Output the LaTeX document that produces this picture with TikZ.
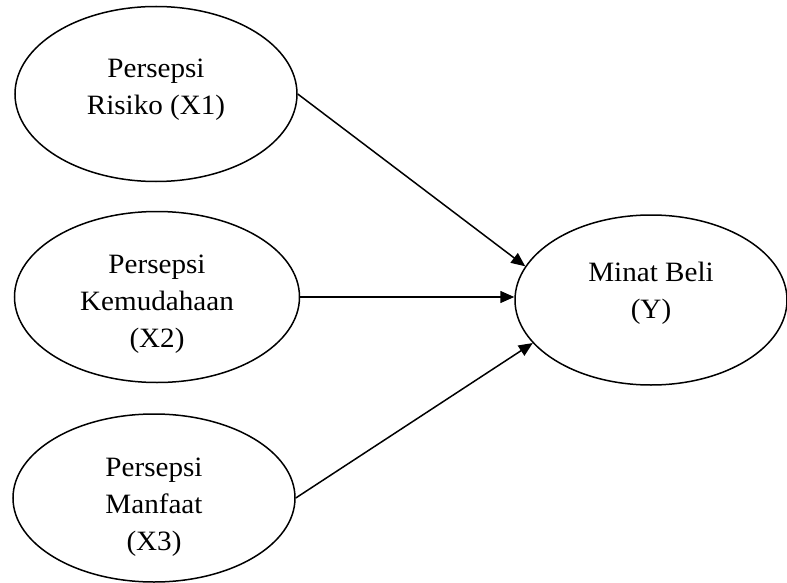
\documentclass[tikz,border=0pt]{standalone}
\usepackage{fontspec}
\setmainfont{Liberation Serif}[FakeStretch=1.04]
\usetikzlibrary{shapes.geometric, arrows.meta}

\begin{document}
\begin{tikzpicture}[x=0.5pt, y=-0.5pt,
  var/.style={ellipse, draw, line width=0.75pt, inner sep=0pt},
  txt/.style={align=center, font=\fontsize{14}{18.5}\selectfont},
  link/.style={line width=0.75pt, -{Triangle[length=7pt, width=6pt]}}]
\useasboundingbox (0,0) rectangle (787,583);
% Draw the latent variables
\node[var, minimum width=141pt, minimum height=87.5pt] (x1) at (156,94) {};
\node[var, minimum width=142.5pt, minimum height=85.5pt] (x2) at (157,297) {};
\node[var, minimum width=141pt, minimum height=84pt] (x3) at (154,498) {};
\node[var, minimum width=136pt, minimum height=85pt] (y) at (651,300) {};

\node[txt] (x1t) at (156,90) {Persepsi\\Risiko (X1)};
\node[txt] (x2t) at (157,304) {Persepsi\\Kemudahaan\\(X2)};
\node[txt] (x3t) at (154,507) {Persepsi\\Manfaat\\(X3)};
\node[txt] (yt) at (651,293) {Minat Beli\\(Y)};

\draw[link] (x1.east) -- (y.165);
\draw[link] (x2.east) -- (x2.east -| y.west);
\draw[link] (x3.east) -- (y.200);
\end{tikzpicture}
\end{document}
